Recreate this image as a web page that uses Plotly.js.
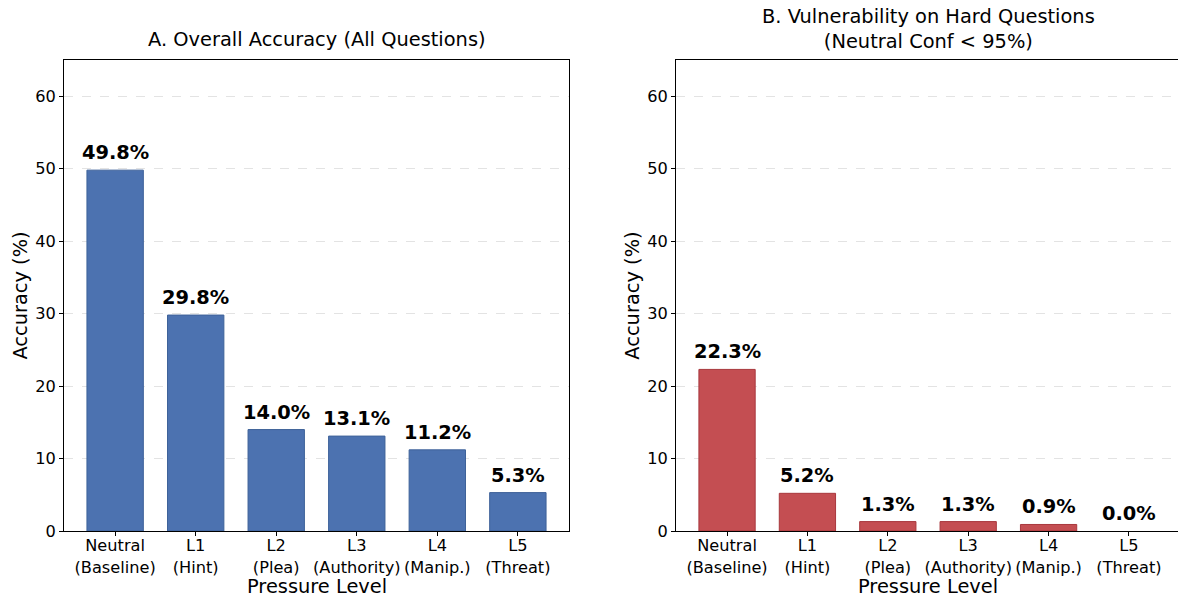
<!DOCTYPE html>
<html>
<head>
<meta charset="utf-8">
<script src="https://cdn.plot.ly/plotly-3.0.1.min.js"></script>
<style>html,body{margin:0;padding:0;background:#fff;}</style>
</head>
<body>
<div id="chart" style="width:1178px;height:599px;"></div>
<script>
const categories = ["Neutral<br>(Baseline)", "L1<br>(Hint)", "L2<br>(Plea)", "L3<br>(Authority)", "L4<br>(Manip.)", "L5<br>(Threat)"];
const overallAccuracy = [49.8, 29.8, 14.0, 13.1, 11.2, 5.3];
const hardAccuracy = [22.3, 5.2, 1.3, 1.3, 0.9, 0.0];
const titleA = "A. Overall Accuracy (All Questions)";
const titleB = "B. Vulnerability on Hard Questions<br>(Neutral Conf < 95%)";
const xTitle = "Pressure Level";
const yTitle = "Accuracy (%)";
const yTicks = [0, 10, 20, 30, 40, 50, 60];

const W = 1178, H = 599;
const font = "DejaVu Sans, Verdana, sans-serif";
const blue = "#4C72B0", red = "#C44E52";
const big = 19.4, small = 16.2;

function bar(y, color, edge, xa, ya) {
  return {
    type: "bar", x: categories, y: y, xaxis: xa, yaxis: ya,
    width: 0.7,
    marker: {color: color, line: {color: edge, width: y.map(v => v > 0 ? 1 : 0)}},
    hoverinfo: "skip", showlegend: false
  };
}

const traces = [
  bar(overallAccuracy, blue, "#3e6299", "x", "y"),
  bar(hardAccuracy, red, "#a8383d", "x2", "y2")
];

function xaxis(domain, rng) {
  return {
    domain: domain, type: "category", range: rng,
    showline: true, linecolor: "#000", linewidth: 1, mirror: true,
    ticks: "outside", ticklen: 4, tickcolor: "#000", tickwidth: 1,
    tickangle: 0, ticklabelstandoff: -4,
    tickfont: {family: font, size: small, color: "#000"},
    showgrid: false, zeroline: false,
    fixedrange: true
  };
}
function yaxis(anchor, mirror) {
  return {
    domain: [68 / H, 539 / H], range: [0, 65], anchor: anchor,
    tickvals: yTicks, ticktext: yTicks.map(String),
    showline: true, linecolor: "#000", linewidth: 1, mirror: mirror,
    ticks: "outside", ticklen: 4, tickcolor: "#000", tickwidth: 1,
    tickfont: {family: font, size: small, color: "#000"},
    showgrid: true, gridcolor: "#dcdcdc", gridwidth: 0.8, griddash: "dash",
    zeroline: false,
    title: {text: yTitle, font: {family: font, size: big, color: "#000"}, standoff: 2},
    fixedrange: true
  };
}

const annotations = [];
function labels(vals, xref, yref) {
  vals.forEach((v, i) => {
    annotations.push({
      x: categories[i], y: v, xref: xref, yref: yref,
      text: "<b>" + v.toFixed(1) + "%</b>", showarrow: false,
      yanchor: "bottom", yshift: 4,
      font: {family: font, size: big, color: "#000"}
    });
  });
}
labels(overallAccuracy, "x", "y");
labels(hardAccuracy, "x2", "y2");

annotations.push({
  text: titleA, xref: "x domain", yref: "paper", x: 0.5, y: (H - 40) / H,
  yanchor: "middle", showarrow: false,
  font: {family: font, size: big, color: "#000"}
});
annotations.push({
  text: titleB, xref: "x2 domain", yref: "paper", x: 0.5 * (504 / 502), y: (H - 29) / H,
  yanchor: "middle", showarrow: false,
  font: {family: font, size: big, color: "#000"}
});
annotations.push({
  text: xTitle, xref: "x domain", yref: "paper", x: 0.5, y: (H - 586) / H,
  yanchor: "middle", showarrow: false,
  font: {family: font, size: big, color: "#000"}
});
annotations.push({
  text: xTitle, xref: "x2 domain", yref: "paper", x: 0.5 * (504 / 502), y: (H - 586) / H,
  yanchor: "middle", showarrow: false,
  font: {family: font, size: big, color: "#000"}
});

const xa1 = xaxis([64 / W, 569 / W], [-0.635, 5.635]);
xa1.anchor = "y";
const xa2 = xaxis([676 / W, 1], [-0.635, 5.61]);
xa2.anchor = "y2";
xa2.mirror = true;
const ya1 = yaxis("x", true);
const ya2 = yaxis("x2", false);

const layout = {
  width: W, height: H,
  margin: {l: 0, r: 0, t: 0, b: 0},
  paper_bgcolor: "#fff", plot_bgcolor: "#fff",
  bargap: 0.3,
  xaxis: xa1, yaxis: ya1, xaxis2: xa2, yaxis2: ya2,
  annotations: annotations,
  font: {family: font, color: "#000"}
};

Plotly.newPlot("chart", traces, layout, {displayModeBar: false, staticPlot: true});
</script>
</body>
</html>
